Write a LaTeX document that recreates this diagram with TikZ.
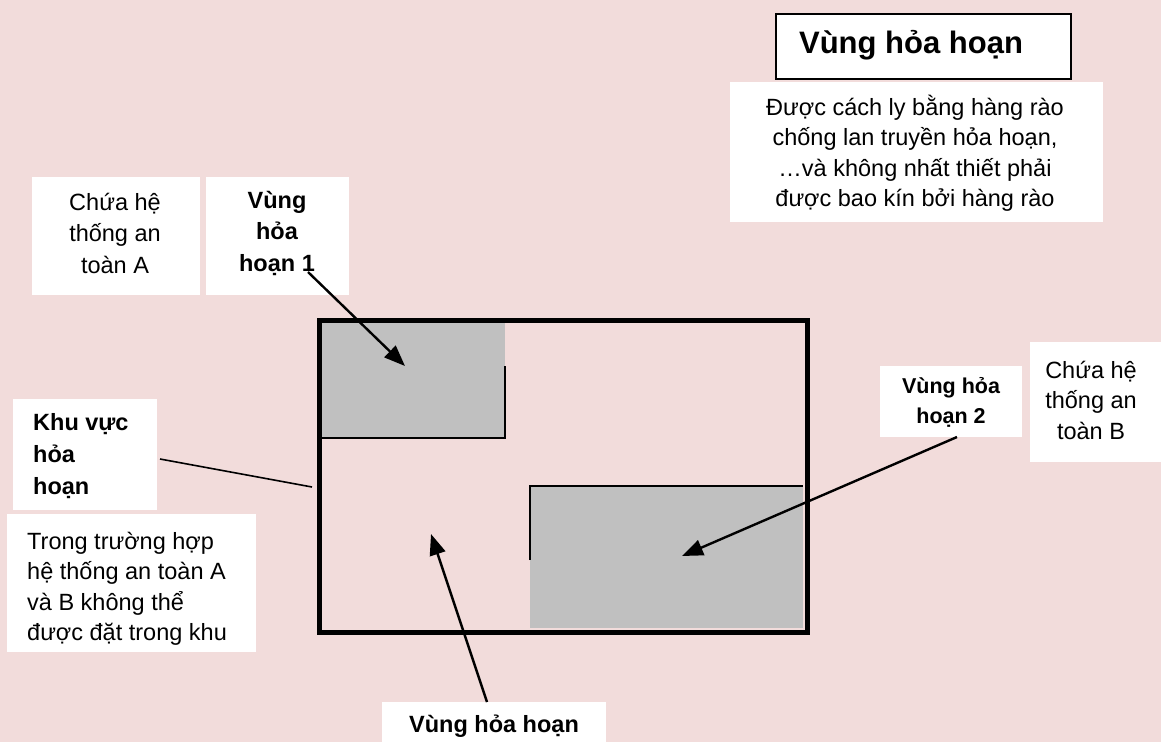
\documentclass[tikz,border=0pt]{standalone}
\usepackage{fontspec}
\setmainfont{Liberation Sans}
\usetikzlibrary{arrows.meta}
\definecolor{bgpink}{HTML}{F2DCDB}
\definecolor{zonegray}{HTML}{C0C0C0}
\begin{document}
\begin{tikzpicture}[x=1pt,y=-1pt,
  panel/.style={fill=white,draw=none,inner sep=0pt,anchor=north west},
  txt/.style={inner sep=0pt,font=\fontsize{23.5}{30.5}\selectfont,align=center},
  btxt/.style={txt,font=\fontsize{23.5}{30.5}\selectfont\bfseries},
  pointer/.style={line width=2.4pt,-{Triangle[length=21pt,width=16pt]}},
  wall/.style={line width=2pt}]
  % background
  \fill[bgpink] (0,0) rectangle (1161,742);
  \useasboundingbox (0,0) rectangle (1161,742);

  % title
  \node[panel,draw=black,line width=2pt,minimum width=295pt,minimum height=65pt] (titlebox) at (775,13) {};
  \node[btxt,font=\fontsize{31}{36}\selectfont\bfseries] (title) at (911,45) {Vùng hỏa hoạn};

  % description panel (text clipped at the panel edge)
  \node[panel,minimum width=373pt,minimum height=140pt] (descbox) at (730,82) {};
  \begin{scope}
    \clip (730,82) rectangle (1103,222);
    \node[txt] (desc) at (915,153) {Được cách ly bằng hàng rào\\chống lan truyền hỏa hoạn,\\…và không nhất thiết phải\\được bao kín bởi hàng rào};
  \end{scope}

  % labels on the left
  \node[panel,minimum width=168pt,minimum height=118pt] (aBox) at (32,177) {};
  \node[txt,font=\fontsize{23.5}{31.5}\selectfont] (aText) at (115,233) {Chứa hệ\\thống an\\toàn A};
  \node[panel,minimum width=143pt,minimum height=118pt] (z1Box) at (206,177) {};
  \node[btxt,font=\fontsize{23.5}{31.5}\selectfont\bfseries] (z1Text) at (277,233) {Vùng\\hỏa\\hoạn 1};

  \node[panel,minimum width=144pt,minimum height=111pt] (areaBox) at (13,399) {};
  \node[btxt,font=\fontsize{23.5}{32}\selectfont\bfseries,align=left,anchor=west] (areaText) at (33,456) {Khu vực\\hỏa\\hoạn};

  \node[panel,minimum width=249pt,minimum height=138pt] (caseBox) at (7,514) {};
  \begin{scope}
    \clip (7,514) rectangle (256,652);
    \node[txt,align=left,anchor=west] (caseText) at (27,589) {Trong trường hợp\\hệ thống an toàn A\\và B không thể\\được đặt trong khu};
  \end{scope}

  % labels on the right
  \node[panel,minimum width=142pt,minimum height=71pt] (z2Box) at (880,366) {};
  \node[btxt,font=\fontsize{21.5}{30}\selectfont\bfseries] (z2Text) at (951,402) {Vùng hỏa\\hoạn 2};
  \node[panel,minimum width=131pt,minimum height=120pt] (bBox) at (1030,342) {};
  \node[txt] (bText) at (1091,400) {Chứa hệ\\thống an\\toàn B};

  % bottom label
  \node[panel,minimum width=224pt,minimum height=45pt] (zBox) at (382,702) {};
  \node[btxt] (zText) at (494,726) {Vùng hỏa hoạn};

  % fire zones inside the fire area
  \fill[zonegray] (317,320) rectangle (505,438);
  \fill[zonegray] (530,486) rectangle (803,628);
  \draw[wall] (317,438) -- (505,438) -- (505,366);
  \draw[wall] (530,560) -- (530,486) -- (803,486);

  % fire area boundary
  \node[draw=black,line width=5pt,inner sep=0pt,anchor=north west,minimum width=488pt,minimum height=312pt] (area) at (317,318) {};

  % connectors
  \coordinate (p1s) at (308,272);
  \coordinate (p1e) at (405,366);
  \coordinate (p2s) at (957,437);
  \coordinate (p2e) at (682,556);
  \coordinate (p3s) at (487,702);
  \coordinate (p3e) at (431,534);
  \coordinate (lAs) at (160,459);
  \coordinate (lAe) at (312,487);
  \draw[pointer] (p1s) -- (p1e);
  \draw[pointer] (p2s) -- (p2e);
  \draw[pointer] (p3s) -- (p3e);
  \draw[line width=1.6pt] (lAs) -- (lAe);
\end{tikzpicture}
\end{document}
